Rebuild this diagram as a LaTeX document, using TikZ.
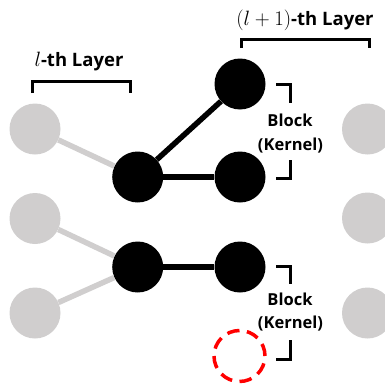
\documentclass[tikz,border=0pt]{standalone}
\usepackage{fontspec}
\setmainfont{Open Sans}
% math part of the layer labels, set a little larger than the text
\newcommand{\layermath}[1]{{\fontsize{21}{24}\selectfont$#1$}}
\begin{document}
\begin{tikzpicture}[x=1pt,y=-1pt,
  neuron/.style={circle,inner sep=0pt,minimum size=51pt},
  active/.style={neuron,fill=black},
  idle/.style={neuron,fill=greyc},
  pruned/.style={neuron,draw=red,line width=3.5pt,dash pattern=on 12.5pt off 7.5pt,minimum size=51pt},
  weight/.style={line width=5.5pt,black},
  faded/.style={line width=5.5pt,greyc},
  bracket/.style={line width=3pt,black},
  layerlabel/.style={anchor=base,inner sep=0pt,font=\fontsize{18.5}{21}\selectfont\bfseries},
  blocklabel/.style={anchor=base,inner sep=0pt,font=\fontsize{16.5}{20}\selectfont\bfseries}]
\definecolor{greyc}{HTML}{D0CECE}
\useasboundingbox (0,0) rectangle (385,388);

% previous layer (inactive)
\node[idle] (g1) at (35,129) {};
\node[idle] (g2) at (35,218.5) {};
\node[idle] (g3) at (35,313) {};
% next layer (inactive)
\node[idle] (r1) at (367.5,129) {};
\node[idle] (r2) at (367.5,218) {};
\node[idle] (r3) at (367.5,313) {};

% l-th layer
\node[active] (a1) at (137.7,177) {};
\node[active] (a2) at (137.7,267) {};
% (l+1)-th layer
\node[active] (b1) at (240,84) {};
\node[active] (b2) at (240,177) {};
\node[active] (b3) at (240,267) {};
\node[pruned] (b4) at (239.5,356) {};

% connections
\draw[faded] (g1) -- (a1);
\draw[faded] (g2) -- (a2);
\draw[faded] (g3) -- (a2);
\draw[weight] (a1) -- (b1);
\draw[weight] (a1) -- (b2);
\draw[weight] (a2) -- (b3);

% layer labels and brackets
\node[layerlabel] (lt) at (79,66) {\layermath{l}-th Layer};
\node[layerlabel] (lt1) at (305,25) {\layermath{(l+1)}-th Layer};
\coordinate (p1) at (32.7,93);
\coordinate (p2) at (130.7,93);
\draw[bracket] (p1) |- (130.7,81) -- (p2);
\coordinate (q1) at (241,48);
\coordinate (q2) at (369,48);
\draw[bracket] (q1) |- (369,39) -- (q2);

% block brackets
\coordinate (k1) at (276,84.5);
\coordinate (k2) at (276,178);
\draw[bracket] (k1) -| (290,103);
\draw[bracket] (k2) -| (290,160);
\node[blocklabel] (bk1) at (290,126) {Block};
\node[blocklabel] (kn1) at (290.5,150) {(Kernel)};

\coordinate (k3) at (276,266.5);
\coordinate (k4) at (276,359);
\draw[bracket] (k3) -| (290,284);
\draw[bracket] (k4) -| (290,340);
\node[blocklabel] (bk2) at (290,305) {Block};
\node[blocklabel] (kn2) at (290.5,328) {(Kernel)};
\end{tikzpicture}
\end{document}
